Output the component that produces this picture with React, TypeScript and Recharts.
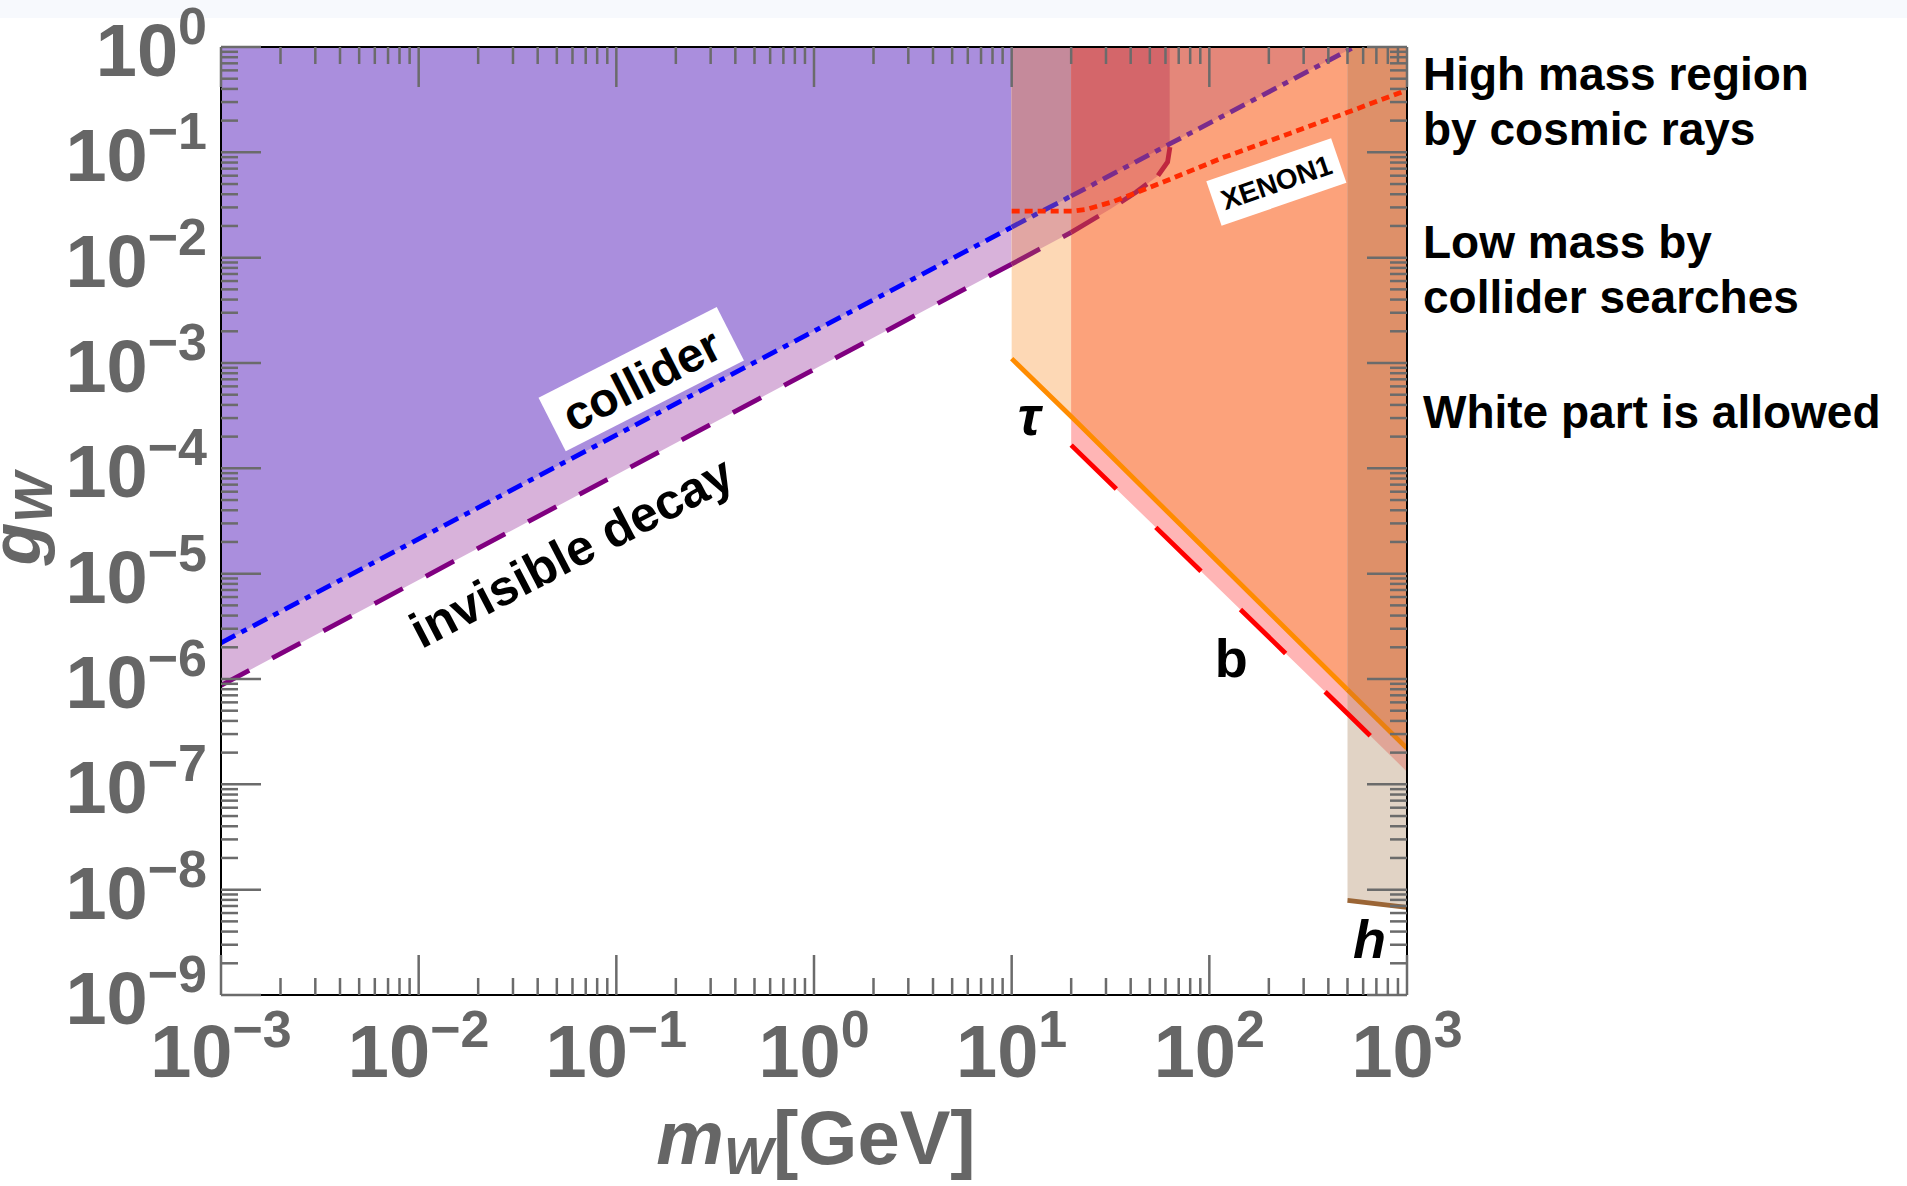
import React from 'react';
import { ComposedChart, Area, Line, XAxis, YAxis, ReferenceDot } from 'recharts';

// masses in GeV and couplings g_W
const colliderMass = [1e-3, 10, 20, 63, 540];
const colliderG = [2.2e-6, 1.95e-2, 3.85e-2, 0.12, 1];

const invisibleMass = [1e-3, 10, 20, 31.6, 42.7, 55, 61.5, 63.2];
const invisibleG = [8.7e-7, 8.7e-3, 1.74e-2, 2.9e-2, 4.2e-2, 6.0e-2, 8.1e-2, 0.112];

const tauMass = [10, 20, 500, 1000];
const tauG = [1.1e-3, 3.1e-4, 7.9e-7, 2.2e-7];

const bMass = [20, 500, 1000];
const bG = [1.66e-4, 4.7e-7, 1.32e-7];

const hMass = [500, 1000];
const hG = [7.9e-9, 6.8e-9];

const xenonMass = [10, 20.4, 24, 32.4, 58.9, 117, 257, 501, 1000];
const xenonG = [2.77e-2, 2.77e-2, 2.88e-2, 3.39e-2, 5.25e-2, 8.9e-2, 0.152, 0.24, 0.39];

const xDecades = [-3, -2, -1, 0, 1, 2, 3];
const yDecades = [-9, -8, -7, -6, -5, -4, -3, -2, -1, 0];
const minorSteps = [2, 3, 4, 5, 6, 7, 8, 9];

const FONT = '"Liberation Sans", Arial, sans-serif';
const TICK = '#6B6B6B';
const LABEL = '#666666';

const lg = (v: number) => Math.log10(v);

type Pt = { x: number; y: number };

const trace = (mass: number[], g: number[], from: number, to: number): Pt[] =>
  mass
    .map((m, i) => ({ x: lg(m), y: lg(g[i]) }))
    .filter((p) => p.x >= lg(from) - 1e-9 && p.x <= lg(to) + 1e-9);

// region above a boundary, up to g = 1
const band = (mass: number[], g: number[], from: number, to: number) =>
  trace(mass, g, from, to).map((p) => ({ x: p.x, r: [p.y, 0] }));

const withMinors = (decades: number[]) =>
  decades.flatMap((d, i) => (i < decades.length - 1 ? [d, ...minorSteps.map((k) => d + lg(k))] : [d]));

const xTicks = withMinors(xDecades);
const yTicks = withMinors(yDecades);

// painter's order, each colour is the visible overlap colour
const regions = [
  { data: band(invisibleMass, invisibleG, 1e-3, 10), fill: '#D8B2DA' },
  { data: band(colliderMass, colliderG, 1e-3, 10), fill: '#AA8EDD' },
  { data: band(tauMass, tauG, 10, 20), fill: '#FDD8B5' },
  { data: band(invisibleMass, invisibleG, 10, 20), fill: '#E1A6A3' },
  { data: band(colliderMass, colliderG, 10, 20), fill: '#C58A9B' },
  { data: band(bMass, bG, 20, 1000), fill: '#FFB5B5' },
  { data: band(tauMass, tauG, 20, 1000), fill: '#FCA27B' },
  { data: band(invisibleMass, invisibleG, 20, 63.2), fill: '#E9806F' },
  { data: band(colliderMass, colliderG, 20, 540), fill: '#E4877A' },
  { data: band(colliderMass, colliderG, 20, 63), fill: '#D4666A' },
  { data: band(hMass, hG, 500, 1000), fill: '#E1D3C5' },
  { data: band(bMass, bG, 500, 1000), fill: '#E0A597' },
  { data: band(tauMass, tauG, 500, 1000), fill: '#DE9069' },
];

const DASHDOT = '16 7 6 7';
const LONGDASH = '32 26';

const curves = [
  { data: trace(colliderMass, colliderG, 1e-3, 10), stroke: '#0000FF', dash: DASHDOT },
  { data: trace(colliderMass, colliderG, 10, 20), stroke: '#4B2BBE', dash: DASHDOT },
  { data: trace(colliderMass, colliderG, 20, 540), stroke: '#7A2C8C', dash: DASHDOT },
  { data: trace(invisibleMass, invisibleG, 1e-3, 10), stroke: '#800080', dash: LONGDASH },
  { data: trace(invisibleMass, invisibleG, 10, 20), stroke: '#921F6E', dash: LONGDASH },
  { data: trace(invisibleMass, invisibleG, 20, 55), stroke: '#B0264F', dash: LONGDASH },
  { data: trace(invisibleMass, invisibleG, 55, 63.2), stroke: '#C0263F', dash: undefined },
  { data: trace(xenonMass, xenonG, 10, 1000), stroke: '#FF2A00', dash: '8 5' },
  { data: trace(tauMass, tauG, 10, 500), stroke: '#FF8C00', dash: undefined },
  { data: trace(tauMass, tauG, 500, 1000), stroke: '#EA8010', dash: undefined },
  { data: trace(bMass, bG, 20, 1000), stroke: '#FF0000', dash: '63 55' },
  { data: trace(hMass, hG, 500, 1000), stroke: '#9B6535', dash: undefined },
];

const isMajor = (v: number) => Math.abs(v - Math.round(v)) < 1e-6;
const power = (v: number) => {
  const n = Math.round(v);
  return n < 0 ? `\u2212${-n}` : String(n);
};

const tickFor = (side: 'bottom' | 'top' | 'left' | 'right') => (props: any) => {
  const { x, y, payload } = props;
  const v = payload.value;
  const major = isMajor(v);
  const len = major ? 40 : 17;
  if (side === 'bottom' || side === 'top') {
    const dir = side === 'bottom' ? -1 : 1;
    return (
      <g>
        <line x1={x} y1={y} x2={x} y2={y + dir * len} stroke={TICK} strokeWidth={2.5} />
        {side === 'bottom' && major && (
          <text x={x} y={y + 82} textAnchor="middle" fontSize={74} fontWeight="bold" fill={LABEL} fontFamily={FONT}>
            10
            <tspan fontSize={52} dy={-30}>
              {power(v)}
            </tspan>
          </text>
        )}
      </g>
    );
  }
  const dir = side === 'left' ? 1 : -1;
  return (
    <g>
      <line x1={x} y1={y} x2={x + dir * len} y2={y} stroke={TICK} strokeWidth={2.5} />
      {side === 'left' && major && (
        <text x={x - 14} y={y + 29} textAnchor="end" fontSize={74} fontWeight="bold" fill={LABEL} fontFamily={FONT}>
          10
          <tspan fontSize={52} dy={-32}>
            {power(v)}
          </tspan>
        </text>
      )}
    </g>
  );
};

const boxedLabel = (text: string, angle: number, w: number, h: number, size: number) => (p: any) => (
  <g transform={`translate(${p.cx},${p.cy}) rotate(${angle})`}>
    <rect x={-w / 2} y={-h / 2} width={w} height={h} fill="#ffffff" />
    <text x={0} y={size * 0.36} textAnchor="middle" fontSize={size} fontWeight="bold" fill="#000" fontFamily={FONT}>
      {text}
    </text>
  </g>
);

const plainLabel = (text: string, angle: number, size: number, italic: boolean) => (p: any) => (
  <text
    transform={`translate(${p.cx},${p.cy}) rotate(${angle})`}
    x={0}
    y={size * 0.36}
    textAnchor="middle"
    fontSize={size}
    fontWeight="bold"
    fontStyle={italic ? 'italic' : 'normal'}
    fill="#000"
    fontFamily={FONT}
  >
    {text}
  </text>
);

const App: React.FC = () => {
  return (
    <div style={{ position: 'absolute', left: 0, top: 0, width: 1907, height: 1186, background: '#ffffff' }}>
      <div style={{ position: 'absolute', left: 0, top: 0, width: 1907, height: 18, background: '#F7F9FD' }} />
      <ComposedChart width={1907} height={1186} margin={{ top: 46, right: 499, bottom: 190, left: 220 }}>
        {regions.map((r, i) => (
          <Area
            key={`reg${i}`}
            data={r.data}
            dataKey="r"
            xAxisId="b"
            yAxisId="l"
            type="linear"
            stroke="none"
            fill={r.fill}
            fillOpacity={1}
            isAnimationActive={false}
            activeDot={false}
          />
        ))}
        {curves.map((c, i) => (
          <Line
            key={`cur${i}`}
            data={c.data}
            dataKey="y"
            xAxisId="b"
            yAxisId="l"
            type="linear"
            stroke={c.stroke}
            strokeWidth={4.8}
            strokeDasharray={c.dash}
            dot={false}
            activeDot={false}
            isAnimationActive={false}
          />
        ))}

        <ReferenceDot xAxisId="b" yAxisId="l" x={-0.874} y={-3.153} r={1} ifOverflow="visible"
          shape={boxedLabel('collider', -27, 200, 60, 48)} />
        <ReferenceDot xAxisId="b" yAxisId="l" x={-1.229} y={-4.786} r={1} ifOverflow="visible"
          shape={plainLabel('invisible decay', -27.5, 50, false)} />
        <ReferenceDot xAxisId="b" yAxisId="l" x={2.339} y={-1.282} r={1} ifOverflow="visible"
          shape={boxedLabel('XENON1', -19, 132, 47, 28)} />
        <ReferenceDot xAxisId="b" yAxisId="l" x={1.089} y={-3.495} r={1} ifOverflow="visible"
          shape={plainLabel('\u03C4', 0, 56, true)} />
        <ReferenceDot xAxisId="b" yAxisId="l" x={2.111} y={-5.8} r={1} ifOverflow="visible"
          shape={plainLabel('b', 0, 54, false)} />
        <ReferenceDot xAxisId="b" yAxisId="l" x={2.81} y={-8.46} r={1} ifOverflow="visible"
          shape={plainLabel('h', 0, 54, true)} />

        <XAxis xAxisId="b" type="number" dataKey="x" orientation="bottom" domain={[-3, 3]} allowDataOverflow
          ticks={xTicks} interval={0} height={1} tickSize={0} tickMargin={0} tickLine={false}
          axisLine={{ stroke: '#000', strokeWidth: 2 }} tick={tickFor('bottom')} />
        <XAxis xAxisId="t" type="number" dataKey="x" orientation="top" domain={[-3, 3]} allowDataOverflow
          ticks={xTicks} interval={0} height={1} tickSize={0} tickMargin={0} tickLine={false}
          axisLine={{ stroke: '#000', strokeWidth: 2 }} tick={tickFor('top')} />
        <YAxis yAxisId="l" type="number" orientation="left" domain={[-9, 0]} allowDataOverflow
          ticks={yTicks} interval={0} width={1} tickSize={0} tickMargin={0} tickLine={false}
          axisLine={{ stroke: '#000', strokeWidth: 2 }} tick={tickFor('left')} />
        <YAxis yAxisId="r" type="number" orientation="right" domain={[-9, 0]} allowDataOverflow
          ticks={yTicks} interval={0} width={1} tickSize={0} tickMargin={0} tickLine={false}
          axisLine={{ stroke: '#000', strokeWidth: 2 }} tick={tickFor('right')} />
      </ComposedChart>

      <svg width={1907} height={1186} style={{ position: 'absolute', left: 0, top: 0, pointerEvents: 'none' }}>
        <text x={816} y={1164} textAnchor="middle" fontSize={76} fontWeight="bold" fill={LABEL} fontFamily={FONT}>
          <tspan fontStyle="italic">m</tspan>
          <tspan fontStyle="italic" fontSize={52} dy={10}>W</tspan>
          <tspan dy={-10}>[GeV]</tspan>
        </text>
        <text transform="translate(40,519) rotate(-90)" textAnchor="middle" fontSize={70} fontWeight="bold"
          fontStyle="italic" fill={LABEL} fontFamily={FONT}>
          g<tspan fontSize={53} dy={12}>W</tspan>
        </text>
        <g fontSize={46} fontWeight="bold" fill="#000" fontFamily={FONT}>
          <text x={1423} y={90}>High mass region</text>
          <text x={1423} y={145}>by cosmic rays</text>
          <text x={1423} y={258}>Low mass by</text>
          <text x={1423} y={313}>collider searches</text>
          <text x={1423} y={428}>White part is allowed</text>
        </g>
      </svg>
    </div>
  );
};

export default App;
